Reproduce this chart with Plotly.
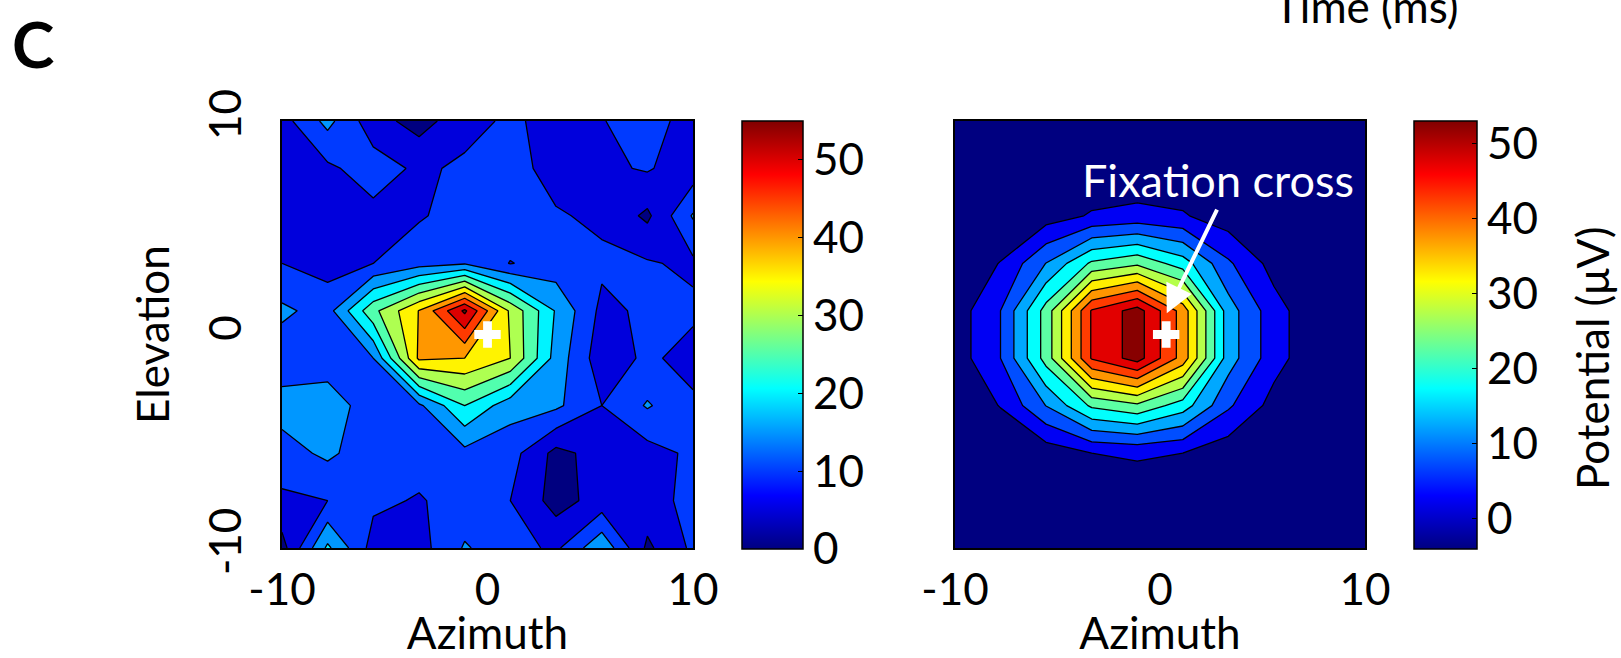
import plotly.graph_objects as go

W, H = 1621, 658

# ---------------- data ----------------
azimuth = [-10, -7.78, -5.56, -3.33, -1.11, 1.11, 3.33, 5.56, 7.78, 10]
elevation = [-10, -7.78, -5.56, -3.33, -1.11, 1.11, 3.33, 5.56, 7.78, 10]

# measured potential (µV); rows = elevation from -10 (bottom) to 10 (top)
measured = [
    [3, 21, 8, 8, 15.5, 12, 9, 19, 4, 11],
    [9, 10, 11, 9.6, 12, 10, 3, 7, 8, 11.5],
    [13, 16, 12, 12, 13.5, 12, 3.5, 7, 8, 11],
    [17, 18, 12, 14, 25, 17, 16, 10, 15.5, 11],
    [12, 12, 15, 41, 40, 35, 18, 7, 11, 8],
    [16, 13, 28.6, 40.2, 56, 34, 19.5, 8.7, 11, 11],
    [10, 8, 10, 13, 14.5, 9.8, 12, 11, 10.5, 9],
    [7, 7, 8.5, 9.5, 12, 13, 10.5, 9, 4, 15.5],
    [7, 9, 12.5, 9, 11, 12, 8, 9, 10.5, 7],
    [8, 16.5, 7, 3, 8, 11, 8, 9.8, 12, 8],
]

# fitted potential (µV)
fitted = [
    [-4, -4, -4, -4, -4, -4, -4, -4, -4, -4],
    [-4, -4, -4, -4, -4, -4, -4, -4, -4, -4],
    [-4, -4, -3, 0, 0.8, 0, -3.2, -4, -4, -4],
    [-3.5, 0.2, 10.1, 20.9, 24, 17.5, 5.8, -1.9, -4, -4],
    [-2.7, 5, 22, 45.5, 52.2, 38, 12.4, 2, -4, -4],
    [-2.7, 5, 22, 45.5, 52.2, 38, 12.4, 2, -4, -4],
    [-3.5, 0.2, 10.1, 20.9, 24, 17.5, 5.8, -1.9, -4, -4],
    [-4, -4, -2.4, 0.5, 1.5, 0.5, -2.85, -4, -4, -4],
    [-4, -4, -4, -4, -4, -4, -4, -4, -4, -4],
    [-4, -4, -4, -4, -4, -4, -4, -4, -4, -4],
]

axis_ticks = [-10, 0, 10]
axis_tick_labels = ["-10", "0", "10"]
cbar_ticks = [0, 10, 20, 30, 40, 50]
measured_crange = (0, 55)
fitted_crange = (-4, 53)
fixation_left = ([0], [0])
fixation_right = ([0.3], [0])

FONT = "Lato"
FS = 44


# ---------------- colours (MATLAB jet) ----------------
def jet(t):
    t = max(0.0, min(1.0, t))
    cl = lambda v: max(0.0, min(1.0, v))
    r = cl(min(4 * t - 1.5, -4 * t + 4.5))
    g = cl(min(4 * t - 0.5, -4 * t + 3.5))
    b = cl(min(4 * t + 0.5, -4 * t + 2.5))
    return "rgb(%d,%d,%d)" % (round(r * 255), round(g * 255), round(b * 255))


jet_scale = [[s, jet(s)] for s in (0, 0.125, 0.375, 0.625, 0.875, 1)]


def band_scale(start, end, size, cmin, cmax, rule):
    nc = int(round((end - start) / size)) + 1
    stops = []
    for k in range(nc + 1):
        if k == 0:
            v = cmin
        else:
            lower = start + (k - 1) * size
            v = lower if rule == "lower" else lower + size / 2
        stops.append([k / nc, jet((v - cmin) / (cmax - cmin))])
    return stops


# ---------------- layout geometry (pixels) ----------------
L_X0, L_X1 = 282, 693
R_X0, R_X1 = 955, 1365
P_Y0, P_Y1 = 121, 548


def px(x):
    return x / W


def py(y):
    return 1 - y / H


fig = go.Figure()

fig.add_trace(go.Contour(
    x=azimuth, y=elevation, z=measured, xaxis="x", yaxis="y",
    autocontour=False,
    contours=dict(start=0, end=55, size=5, coloring="fill", showlines=True),
    line=dict(color="black", width=1.3, smoothing=0),
    colorscale=band_scale(0, 55, 5, *measured_crange, "lower"),
    showscale=False, hoverinfo="skip"))

fig.add_trace(go.Contour(
    x=azimuth, y=elevation, z=fitted, xaxis="x2", yaxis="y2",
    autocontour=False,
    contours=dict(start=0, end=50, size=5, coloring="fill", showlines=True),
    line=dict(color="black", width=1.3, smoothing=0),
    colorscale=band_scale(0, 50, 5, *fitted_crange, "mid"),
    showscale=False, hoverinfo="skip"))


def cbar_trace(xaxis, yaxis, crange, x_left, x_right):
    return go.Scatter(
        x=[None], y=[None], xaxis=xaxis, yaxis=yaxis, mode="markers",
        showlegend=False, hoverinfo="skip",
        marker=dict(color=[crange[0]], cmin=crange[0], cmax=crange[1],
                    colorscale=jet_scale, showscale=True,
                    colorbar=dict(
                        x=px(x_left), xanchor="left", xref="paper",
                        y=py(P_Y1 + 1), yanchor="bottom", yref="paper",
                        len=(P_Y1 + 1 - P_Y0) / H, lenmode="fraction",
                        thickness=x_right - x_left, thicknessmode="pixels",
                        xpad=0, ypad=0, outlinewidth=1.5, outlinecolor="black",
                        tickvals=cbar_ticks, ticks="inside", ticklen=5,
                        tickcolor="black", tickwidth=1.2,
                        tickfont=dict(family=FONT, size=FS, color="black"))))


fig.add_trace(cbar_trace("x", "y", measured_crange, 742, 803))
fig.add_trace(cbar_trace("x2", "y2", fitted_crange, 1414, 1477))

# fixation crosses
fig.add_trace(go.Scatter(x=fixation_left[0], y=fixation_left[1], xaxis="x", yaxis="y",
                         mode="markers", showlegend=False, hoverinfo="skip",
                         marker=dict(symbol="cross", size=22, color="white",
                                     line=dict(width=0))))
fig.add_trace(go.Scatter(x=fixation_right[0], y=fixation_right[1], xaxis="x2", yaxis="y2",
                         mode="markers", showlegend=False, hoverinfo="skip",
                         marker=dict(symbol="cross", size=22, color="white",
                                     line=dict(width=0))))

axis_common = dict(range=[-10, 10], showgrid=False, zeroline=False, showline=True,
                   mirror=True, linecolor="black", linewidth=1.5, ticks="",
                   tickvals=axis_ticks, ticktext=axis_tick_labels,
                   tickfont=dict(family=FONT, size=FS, color="black"))

fig.update_layout(
    width=W, height=H, autosize=False,
    margin=dict(l=0, r=0, t=0, b=0, autoexpand=False),
    paper_bgcolor="white", plot_bgcolor="white",
    showlegend=False,
    font=dict(family=FONT, size=FS, color="black"),
    xaxis=dict(axis_common, domain=[px(L_X0), px(L_X1)], anchor="y",
               ticklabelstandoff=2,
               title=dict(text="Azimuth", standoff=8, font=dict(family=FONT, size=FS))),
    yaxis=dict(axis_common, domain=[py(P_Y1), py(P_Y0)], anchor="x",
               tickangle=-90, ticklabelstandoff=22,
               title=dict(text="Elevation", standoff=14, font=dict(family=FONT, size=FS))),
    xaxis2=dict(axis_common, domain=[px(R_X0), px(R_X1)], anchor="y2",
                ticklabelstandoff=2,
                title=dict(text="Azimuth", standoff=8, font=dict(family=FONT, size=FS))),
    yaxis2=dict(axis_common, domain=[py(P_Y1), py(P_Y0)], anchor="x2",
                showticklabels=False),
)

annotations = [
    dict(text="<b>C</b>", x=px(33), y=py(43), xref="paper", yref="paper",
         xanchor="center", yanchor="middle", showarrow=False,
         font=dict(family=FONT, size=64, color="black")),
    dict(text="Time (ms)", x=px(1366), y=py(6), xref="paper", yref="paper",
         xanchor="center", yanchor="middle", showarrow=False,
         font=dict(family=FONT, size=FS, color="black")),
    dict(text="Potential (μV)", x=px(1592), y=py(359), xref="paper", yref="paper",
         xanchor="center", yanchor="middle", textangle=-90, showarrow=False,
         font=dict(family=FONT, size=FS, color="black")),
    dict(text="Fixation cross", x=px(1218), y=py(180), xref="paper", yref="paper",
         xanchor="center", yanchor="middle", showarrow=False,
         font=dict(family=FONT, size=45, color="white")),
    dict(text="", x=0.33, y=1.0, xref="x2", yref="y2", showarrow=True,
         ax=51, ay=-105, axref="pixel", ayref="pixel",
         arrowhead=2, arrowsize=1.4, arrowwidth=4, arrowcolor="white"),
]
fig.update_layout(annotations=annotations)

fig.write_html("out.html")
